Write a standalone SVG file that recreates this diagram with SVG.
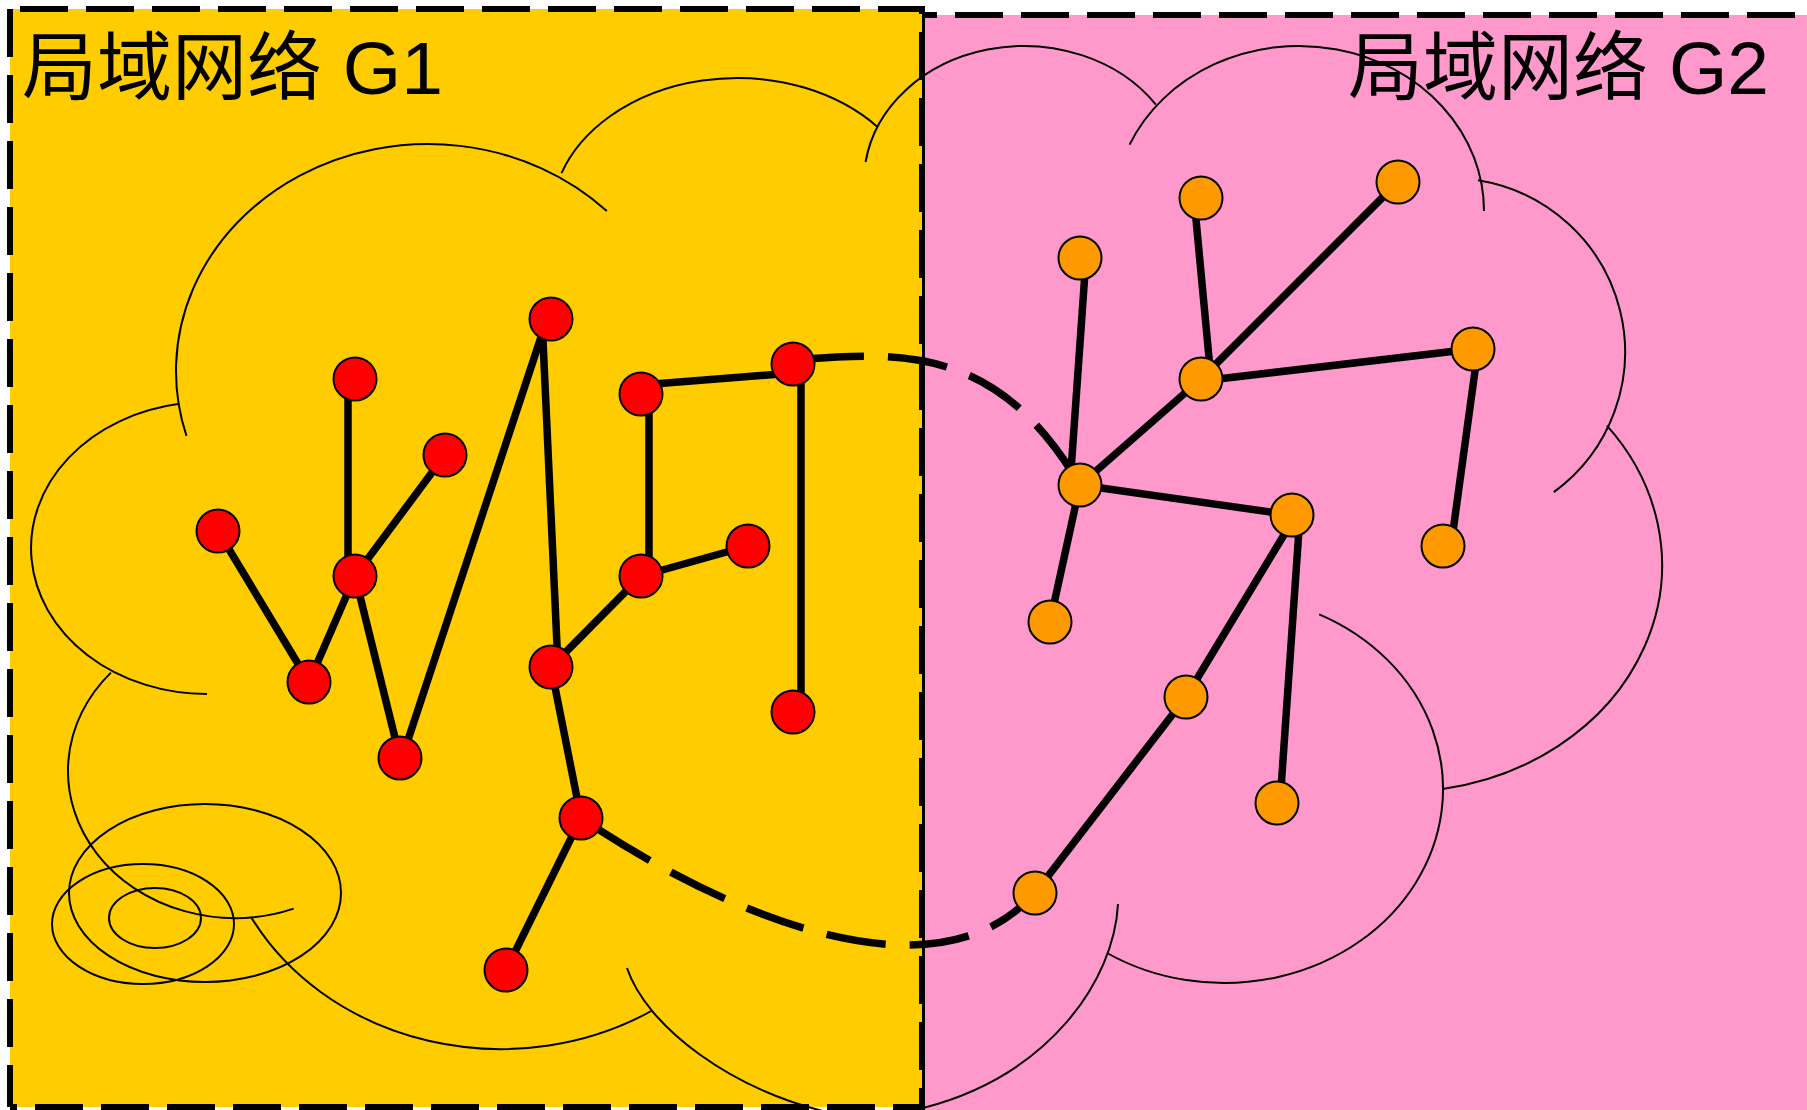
<svg xmlns="http://www.w3.org/2000/svg" width="1807" height="1110" viewBox="0 0 1807 1110">
  <style>
    .cloud { fill: none; stroke: #000; stroke-width: 2; }
    .edge { stroke: #000; stroke-width: 7.5; stroke-linecap: butt; fill: none; }
    .link { stroke: #000; stroke-width: 7.5; fill: none; stroke-dasharray: 60 24; }
    .border { stroke: #000; stroke-width: 6; stroke-dasharray: 48 18; fill: none; }
    .red { fill: #FF0000; stroke: #000; stroke-width: 2; }
    .orange { fill: #FF9900; stroke: #000; stroke-width: 2; }
    .label { font-family: "Liberation Sans", "Noto Sans CJK SC", sans-serif; font-size: 75px; fill: #000; }
  </style>

  <rect x="0" y="0" width="1807" height="1110" fill="#ffffff"/>

  <!-- network areas -->
  <g id="area-g2">
    <rect x="922" y="15" width="900" height="1110" fill="#FF99CC"/>
    <line x1="922" y1="15" x2="1807" y2="15" class="border" stroke-dashoffset="33"/>
    <line x1="923.5" y1="15" x2="923.5" y2="1110" stroke="#000" stroke-width="3"/>
  </g>
  <g id="area-g1">
    <rect x="10" y="9" width="912" height="1098" fill="#FFCC00"/>
    <line x1="10" y1="9" x2="925" y2="9" class="border" stroke-dashoffset="56"/>
    <line x1="10" y1="9" x2="10" y2="1107" class="border"/>
    <line x1="10" y1="1107" x2="925" y2="1107" class="border" stroke-dashoffset="41"/>
    <line x1="922" y1="9" x2="922" y2="1110" class="border" stroke-dashoffset="43"/>
  </g>

  <!-- cloud outlines -->
  <g id="clouds">
    <path class="cloud" d="M 186.5 435.9 A 252 227 0 0 1 606.8 211.1"/>
    <path class="cloud" d="M 561.5 173.1 A 186 142 0 0 1 877.8 127.2"/>
    <path class="cloud" d="M 865.6 162 A 160 135 0 0 1 1155.9 104.6"/>
    <path class="cloud" d="M 1129.6 144.6 A 185 165 0 0 1 1484 211"/>
    <path class="cloud" d="M 1478 180.2 A 175 174 0 0 1 1553.8 492.1"/>
    <path class="cloud" d="M 1606.9 425.7 A 262 227 0 0 1 1444 788.8"/>
    <path class="cloud" d="M 1319.2 614.3 A 219 194 0 1 1 1107 953"/>
    <path class="cloud" d="M 1118 904 C 1114 980, 1050 1075, 923 1108"/>
    <path class="cloud" d="M 627 968 C 646 1025, 730 1092, 840 1115"/>
    <path class="cloud" d="M 251 916.9 A 283 249 0 0 0 652.2 1010.5"/>
    <path class="cloud" d="M 110.9 672.6 A 167 147 0 0 0 293.7 908.6"/>
    <path class="cloud" d="M 179.5 403.8 A 176 146 0 0 0 207 694"/>
    <ellipse class="cloud" cx="205" cy="893" rx="136" ry="89"/>
    <ellipse class="cloud" cx="143" cy="924" rx="91" ry="60"/>
    <ellipse class="cloud" cx="155" cy="918" rx="46" ry="30"/>
  </g>

  <!-- labels -->
  <text class="label" x="22" y="94">局域网络 G1</text>
  <text class="label" x="1769" y="94" text-anchor="end">局域网络 G2</text>

  <!-- connectors -->
  <g id="connectors">
    <line class="edge" x1="218" y1="531" x2="309" y2="682"/>
    <line class="edge" x1="309" y1="682" x2="355" y2="576"/>
    <line class="edge" x1="348" y1="379" x2="348" y2="576"/>
    <line class="edge" x1="355" y1="576" x2="445" y2="455"/>
    <line class="edge" x1="355" y1="576" x2="400" y2="758"/>
    <line class="edge" x1="402" y1="758" x2="547" y2="319"/>
    <line class="edge" x1="542" y1="319" x2="558" y2="667"/>
    <line class="edge" x1="551" y1="667" x2="641" y2="576"/>
    <line class="edge" x1="649" y1="394" x2="649" y2="576"/>
    <line class="edge" x1="641" y1="385" x2="793" y2="373"/>
    <line class="edge" x1="641" y1="576" x2="748" y2="546"/>
    <line class="edge" x1="801" y1="364" x2="801" y2="712"/>
    <line class="edge" x1="551" y1="667" x2="581" y2="818"/>
    <line class="edge" x1="581" y1="818" x2="506" y2="970"/>

    <line class="edge" x1="1086" y1="258" x2="1070" y2="485"/>
    <line class="edge" x1="1194" y1="198" x2="1211" y2="379"/>
    <line class="edge" x1="1398" y1="182" x2="1201" y2="379"/>
    <line class="edge" x1="1201" y1="381" x2="1473" y2="349"/>
    <line class="edge" x1="1201" y1="379" x2="1080" y2="485"/>
    <line class="edge" x1="1080" y1="485" x2="1292" y2="515"/>
    <line class="edge" x1="1080" y1="485" x2="1050" y2="622"/>
    <line class="edge" x1="1478" y1="349" x2="1451" y2="546"/>
    <line class="edge" x1="1296" y1="515" x2="1186" y2="697"/>
    <line class="edge" x1="1186" y1="697" x2="1035" y2="893"/>
    <line class="edge" x1="1300" y1="515" x2="1280" y2="803"/>

    <path class="link" d="M 793 360 C 910 350, 1000 350, 1080 485" stroke-dashoffset="-11"/>
    <path class="link" d="M 581 818 C 710 905, 930 1010, 1035 893" stroke-dashoffset="-21"/>
  </g>

  <!-- G1 hosts -->
  <g id="g1-n1"><circle class="red" cx="551" cy="319" r="21.5"/></g>
  <g id="g1-n2"><circle class="red" cx="355" cy="379" r="21.5"/></g>
  <g id="g1-n3"><circle class="red" cx="445" cy="455" r="21.5"/></g>
  <g id="g1-n4"><circle class="red" cx="218" cy="531" r="21.5"/></g>
  <g id="g1-n5"><circle class="red" cx="355" cy="576" r="21.5"/></g>
  <g id="g1-n6"><circle class="red" cx="309" cy="682" r="21.5"/></g>
  <g id="g1-n7"><circle class="red" cx="400" cy="758" r="21.5"/></g>
  <g id="g1-n8"><circle class="red" cx="641" cy="394" r="21.5"/></g>
  <g id="g1-n9"><circle class="red" cx="793" cy="364" r="21.5"/></g>
  <g id="g1-n10"><circle class="red" cx="641" cy="576" r="21.5"/></g>
  <g id="g1-n11"><circle class="red" cx="748" cy="546" r="21.5"/></g>
  <g id="g1-n12"><circle class="red" cx="551" cy="667" r="21.5"/></g>
  <g id="g1-n13"><circle class="red" cx="793" cy="712" r="21.5"/></g>
  <g id="g1-n14"><circle class="red" cx="581" cy="818" r="21.5"/></g>
  <g id="g1-n15"><circle class="red" cx="506" cy="970" r="21.5"/></g>

  <!-- G2 hosts -->
  <g id="g2-a"><circle class="orange" cx="1201" cy="198" r="21.5"/></g>
  <g id="g2-b"><circle class="orange" cx="1398" cy="182" r="21.5"/></g>
  <g id="g2-c"><circle class="orange" cx="1080" cy="258" r="21.5"/></g>
  <g id="g2-d"><circle class="orange" cx="1201" cy="379" r="21.5"/></g>
  <g id="g2-e"><circle class="orange" cx="1473" cy="349" r="21.5"/></g>
  <g id="g2-f"><circle class="orange" cx="1080" cy="485" r="21.5"/></g>
  <g id="g2-g"><circle class="orange" cx="1292" cy="515" r="21.5"/></g>
  <g id="g2-h"><circle class="orange" cx="1443" cy="546" r="21.5"/></g>
  <g id="g2-i"><circle class="orange" cx="1050" cy="622" r="21.5"/></g>
  <g id="g2-j"><circle class="orange" cx="1186" cy="697" r="21.5"/></g>
  <g id="g2-k"><circle class="orange" cx="1277" cy="803" r="21.5"/></g>
  <g id="g2-l"><circle class="orange" cx="1035" cy="893" r="21.5"/></g>
</svg>
